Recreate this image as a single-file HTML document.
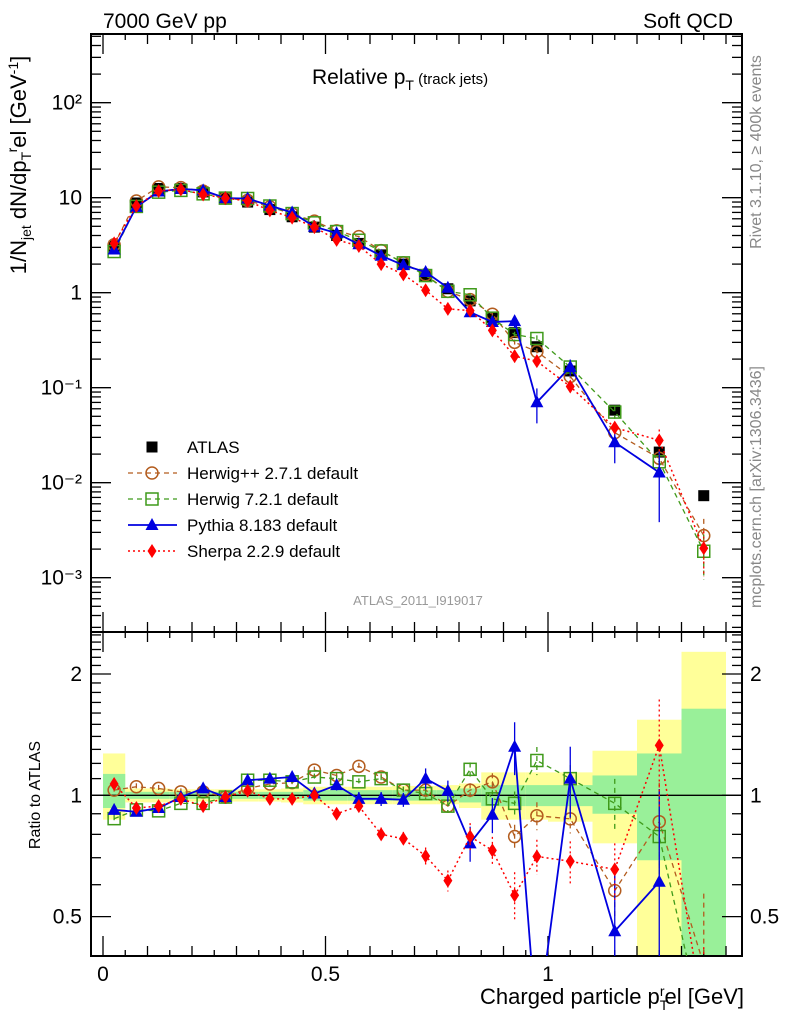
<!DOCTYPE html>
<html><head><meta charset="utf-8"><style>
html,body{margin:0;padding:0;background:#fff;width:786px;height:1024px;overflow:hidden;}
svg{display:block;font-family:"Liberation Sans",sans-serif;}
</style></head><body>
<svg id="chart" width="786" height="1024" viewBox="0 0 786 1024">
<defs>
<clipPath id="cm"><rect x="91" y="34" width="651" height="598"/></clipPath>
<clipPath id="cr"><rect x="91" y="632" width="651" height="324"/></clipPath>
</defs>
<g id="bandsG" clip-path="url(#cr)"></g>
<g id="axesG"></g>
<g id="seriesG"></g>
<text x="103" y="28" font-size="21">7000 GeV pp</text>
<text x="733" y="28" font-size="21" text-anchor="end">Soft QCD</text>
<text x="312" y="84" font-size="21">Relative p<tspan font-size="14" dy="6">T</tspan><tspan font-size="15" dy="-6"> (track jets)</tspan></text>
<text x="418" y="605" font-size="13" fill="#999" text-anchor="middle">ATLAS_2011_I919017</text>
<text transform="translate(761,152) rotate(-90)" font-size="16" fill="#888" text-anchor="middle">Rivet 3.1.10, ≥ 400k events</text>
<text transform="translate(761,487) rotate(-90)" font-size="16" fill="#888" text-anchor="middle">mcplots.cern.ch [arXiv:1306.3436]</text>
<text transform="translate(26,165) rotate(-90)" font-size="22" text-anchor="middle">1/N<tspan font-size="14" dy="5">jet</tspan><tspan dy="-5"> dN/dp</tspan><tspan font-size="14" dy="5">T</tspan><tspan font-size="14" dy="-14">r</tspan><tspan dy="9">el [GeV</tspan><tspan font-size="14" dy="-8">-1</tspan><tspan dy="8">]</tspan></text>
<text transform="translate(40,795) rotate(-90)" font-size="16" text-anchor="middle">Ratio to ATLAS</text>
<text x="744" y="1004" font-size="22" text-anchor="end">Charged particle p<tspan font-size="14" dy="6">T</tspan><tspan font-size="14" dy="-14" dx="-8">r</tspan><tspan dy="8">el [GeV]</tspan></text>
<g id="legendG"></g>
</svg>
<script>
var xCenters=[0.025,0.075,0.125,0.175,0.225,0.275,0.325,0.375,0.425,0.475,0.525,0.575,0.625,0.675,0.725,0.775,0.825,0.875,0.925,0.975,1.05,1.15,1.25,1.35];
var xLow=[0,0.05,0.1,0.15,0.2,0.25,0.3,0.35,0.4,0.45,0.5,0.55,0.6,0.65,0.7,0.75,0.8,0.85,0.9,0.95,1.0,1.1,1.2,1.3];
var xHigh=[0.05,0.1,0.15,0.2,0.25,0.3,0.35,0.4,0.45,0.5,0.55,0.6,0.65,0.7,0.75,0.8,0.85,0.9,0.95,1.0,1.1,1.2,1.3,1.4];
var atlas=[3.1,8.8,12.5,12.5,11.5,10,9,7.5,6.3,4.9,4.0,3.3,2.5,2.0,1.5,1.1,0.82,0.55,0.38,0.27,0.15,0.058,0.021,0.0073];
var herwigppRatio=[1.03,1.05,1.04,1.02,1.02,0.99,1.04,1.067,1.075,1.155,1.12,1.18,1.11,1.03,1.03,0.94,1.03,1.08,0.79,0.89,0.874,0.58,0.86,0.38];
var herwig7Ratio=[0.875,0.92,0.915,0.955,0.955,0.99,1.09,1.09,1.08,1.11,1.10,1.08,1.10,1.03,1.01,0.94,1.16,0.98,0.955,1.22,1.10,0.955,0.79,0.26];
var pythiaRatio=[0.92,0.91,0.93,0.99,1.04,0.99,1.09,1.10,1.11,1.01,1.06,0.98,0.98,0.975,1.10,1.026,0.76,0.895,1.32,0.26,1.10,0.46,0.61,null];
var sherpaRatio=[1.067,0.93,0.94,0.98,0.94,0.99,1.026,0.98,0.98,1.00,0.90,0.94,0.80,0.78,0.707,0.614,0.79,0.73,0.565,0.705,0.686,0.655,1.33,0.28];
var pythiaErr=[0.03,0.02,0.02,0.02,0.02,0.02,0.02,0.02,0.02,0.03,0.03,0.04,0.04,0.04,0.06,0.06,0.1,0.1,0.15,0.4,0.2,0.4,0.7,0];
var sherpaErr=[0.02,0.02,0.02,0.02,0.02,0.02,0.02,0.02,0.02,0.02,0.03,0.03,0.04,0.04,0.05,0.06,0.08,0.08,0.14,0.1,0.12,0.16,0.3,0.5];
var herwigppErr=[0.02,0.02,0.02,0.02,0.02,0.02,0.02,0.02,0.02,0.02,0.02,0.02,0.02,0.02,0.03,0.03,0.04,0.05,0.07,0.08,0.08,0.15,0.25,0.5];
var herwig7Err=[0.02,0.02,0.02,0.02,0.02,0.02,0.02,0.02,0.02,0.02,0.02,0.02,0.02,0.02,0.03,0.03,0.04,0.05,0.07,0.08,0.08,0.15,0.25,0.5];
var yellowLo=[0.87,0.96,0.96,0.965,0.965,0.965,0.965,0.965,0.96,0.95,0.95,0.95,0.95,0.95,0.95,0.95,0.93,0.87,0.87,0.87,0.86,0.76,0.3,0.3];
var yellowHi=[1.27,1.04,1.04,1.035,1.035,1.035,1.035,1.035,1.04,1.05,1.05,1.05,1.05,1.055,1.055,1.06,1.07,1.14,1.14,1.14,1.14,1.29,1.54,2.27];
var greenLo=[0.93,0.98,0.98,0.98,0.98,0.98,0.98,0.98,0.98,0.97,0.97,0.97,0.97,0.97,0.97,0.97,0.96,0.94,0.94,0.94,0.94,0.90,0.69,0.3];
var greenHi=[1.13,1.02,1.02,1.02,1.02,1.02,1.02,1.02,1.02,1.03,1.03,1.03,1.03,1.03,1.03,1.03,1.04,1.06,1.06,1.06,1.06,1.12,1.27,1.64];
var mainTickLabels=["10\u207B\u00B3","10\u207B\u00B2","10\u207B\u00B9","1","10","10\u00B2"];
var ratioTickVals=[0.5,1,2];
var xTickVals=[0,0.5,1];

(function(){
var SVGNS="http://www.w3.org/2000/svg";
var FL=91,FR=742,FT=34,FM=632,FB=956;
function lg10(v){return Math.log(v)/Math.LN10;}
function px(v){return 103+445*v;}
function pyMain(v){return 292.7-95*lg10(v);}
function pyRatio(v){return 795.3-403*lg10(v);}
function mk(tag,attrs,parent){var e=document.createElementNS(SVGNS,tag);for(var k in attrs){e.setAttribute(k,String(attrs[k]));}parent.appendChild(e);return e;}
var axesEl=document.getElementById('axesG'),bandsEl=document.getElementById('bandsG'),seriesEl=document.getElementById('seriesG');
var i,k,v,x,y,t,m;
for(i=0;i<xCenters.length;i++){
 var w=px(xHigh[i])-px(xLow[i]);
 var yb=mk('rect',{x:px(xLow[i]),y:pyRatio(yellowHi[i]),width:w,height:pyRatio(yellowLo[i])-pyRatio(yellowHi[i]),fill:'#ffff99'},bandsEl);
 
 
 var gb=mk('rect',{x:px(xLow[i]),y:pyRatio(greenHi[i]),width:w,height:pyRatio(greenLo[i])-pyRatio(greenHi[i]),fill:'#99f099'},bandsEl);
 
 
}
mk('line',{x1:FL,x2:FR,y1:pyRatio(1),y2:pyRatio(1),stroke:'#000','stroke-width':1.3},axesEl);
mk('rect',{x:FL,y:FT,width:FR-FL,height:FM-FT,fill:'none',stroke:'#000','stroke-width':2},axesEl);
mk('rect',{x:FL,y:FM,width:FR-FL,height:FB-FM,fill:'none',stroke:'#000','stroke-width':2},axesEl);
var edges=[[FT,1],[FM,-1],[FM,1],[FB,-1]];
for(k=0;k<=28;k++){v=k*0.05;x=px(v);if(x<FL||x>FR)continue;var len=(k%10==0)?20:((k%2==0)?10:6);
 for(var e=0;e<4;e++){mk('line',{x1:x,x2:x,y1:edges[e][0],y2:edges[e][0]+edges[e][1]*len,stroke:'#000','stroke-width':1.3},axesEl);}}
for(i=0;i<xTickVals.length;i++){t=mk('text',{x:px(xTickVals[i]),y:981,'font-size':21,'text-anchor':'middle'},axesEl);t.textContent=String(xTickVals[i]);
 
 }
for(var d=-4;d<=2;d++){for(var mm=1;mm<10;mm++){var val=mm*Math.pow(10,d);y=pyMain(val);if(y<FT||y>FM)continue;var ln=mm==1?20:10;
 mk('line',{x1:FL,x2:FL+ln,y1:y,y2:y,stroke:'#000','stroke-width':1.3},axesEl);mk('line',{x1:FR,x2:FR-ln,y1:y,y2:y,stroke:'#000','stroke-width':1.3},axesEl);}}
for(i=0;i<mainTickLabels.length;i++){t=mk('text',{x:82,y:pyMain(Math.pow(10,i-3))+7,'font-size':21,'text-anchor':'end'},axesEl);t.textContent=mainTickLabels[i];
 
 }
for(k=4;k<=25;k++){v=k/10;y=pyRatio(v);if(y<FM||y>FB)continue;var ln2=(k==5||k==10||k==20)?20:10;
 mk('line',{x1:FL,x2:FL+ln2,y1:y,y2:y,stroke:'#000','stroke-width':1.3},axesEl);mk('line',{x1:FR,x2:FR-ln2,y1:y,y2:y,stroke:'#000','stroke-width':1.3},axesEl);}
for(i=0;i<ratioTickVals.length;i++){v=ratioTickVals[i];t=mk('text',{x:82,y:pyRatio(v)+7,'font-size':21,'text-anchor':'end'},axesEl);t.textContent=String(v);
 
 
 var t2=mk('text',{x:750,y:pyRatio(v)+7,'font-size':21},axesEl);t2.textContent=String(v);
 
 }
function marker(type,x,y,color,g){
 if(type=='circle')return mk('circle',{cx:x,cy:y,r:6,fill:'none',stroke:color,'stroke-width':1.5},g);
 if(type=='square')return mk('rect',{x:x-6,y:y-6,width:12,height:12,fill:'none',stroke:color,'stroke-width':1.5},g);
 if(type=='tri')return mk('path',{d:'M'+x+','+(y-7)+'L'+(x+6.5)+','+(y+5)+'L'+(x-6.5)+','+(y+5)+'Z',fill:color},g);
 if(type=='diamond')return mk('path',{d:'M'+x+','+(y-7)+'L'+(x+4.5)+','+y+'L'+x+','+(y+7)+'L'+(x-4.5)+','+y+'Z',fill:color},g);
 return mk('rect',{x:x-5.5,y:y-5.5,width:11,height:11,fill:color},g);
}
var models=[
 {name:'herwigpp',ratio:herwigppRatio,err:herwigppErr,color:'#b35c1e',dash:'5,4',type:'circle',w:1.3},
 {name:'herwig7',ratio:herwig7Ratio,err:herwig7Err,color:'#3f9a1a',dash:'5,4',type:'square',w:1.3},
 {name:'pythia',ratio:pythiaRatio,err:pythiaErr,color:'#0000e0',dash:'none',type:'tri',w:1.8},
 {name:'sherpa',ratio:sherpaRatio,err:sherpaErr,color:'#ff0000',dash:'2,3',type:'diamond',w:1.5}];
var ga=mk('g',{'clip-path':'url(#cm)'},seriesEl);


for(i=0;i<atlas.length;i++){m=marker('bsquare',px(xCenters[i]),pyMain(atlas[i]),'#000',ga);
 
 }
var panels=['main','ratio'];
for(var s=0;s<models.length;s++){var md=models[s];
 for(var pp=0;pp<2;pp++){var panel=panels[pp];
  var g=mk('g',{'clip-path':panel=='main'?'url(#cm)':'url(#cr)'},seriesEl);
  
  
  var yf=panel=='main'?pyMain:pyRatio;
  var pts=[];
  for(i=0;i<xCenters.length;i++){var r=md.ratio[i];if(r===null||r===undefined)continue;
   var vv=panel=='main'?r*atlas[i]:r;
   pts.push([px(xCenters[i]),yf(vv),yf(vv*(1+md.err[i])),yf(Math.max(vv*(1-md.err[i]),1e-6))]);}
  var ptsStr=[];for(i=0;i<pts.length;i++)ptsStr.push(pts[i][0]+','+pts[i][1]);
  mk('polyline',{points:ptsStr.join(' '),fill:'none',stroke:md.color,'stroke-width':md.w,'stroke-dasharray':md.dash},g);
  for(i=0;i<pts.length;i++){var p=pts[i];
   mk('line',{x1:p[0],x2:p[0],y1:p[2],y2:p[3],stroke:md.color,'stroke-width':1.3,'stroke-dasharray':md.dash},g);
   m=marker(md.type,p[0],p[1],md.color,g);
   
   }
 }
}
var lgEl=document.getElementById('legendG');
var legItems=[['ATLAS',null],['Herwig++ 2.7.1 default',models[0]],['Herwig 7.2.1 default',models[1]],['Pythia 8.183 default',models[2]],['Sherpa 2.2.9 default',models[3]]];
for(i=0;i<legItems.length;i++){var it=legItems[i];y=447+26*i;var gl=mk('g',{},lgEl);
 
 
 if(it[1]){mk('line',{x1:128,x2:177,y1:y,y2:y,stroke:it[1].color,'stroke-width':it[1].w,'stroke-dasharray':it[1].dash},gl);marker(it[1].type,152,y,it[1].color,gl);}
 else marker('bsquare',152,y,'#000',gl);
 t=mk('text',{x:187,y:y+6,'font-size':17},gl);t.textContent=it[0];}
})();
</script>
</body></html>
